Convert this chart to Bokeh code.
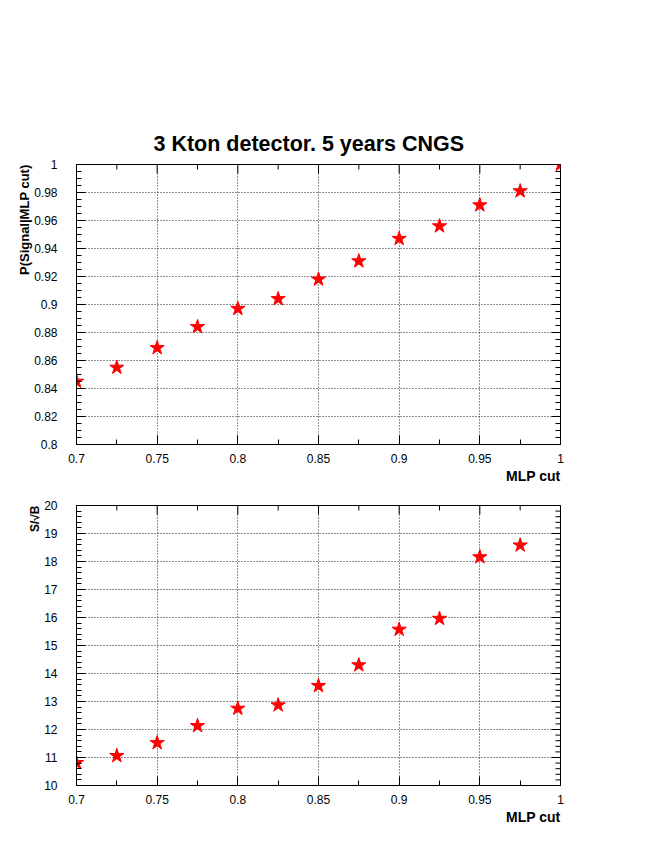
from math import pi

from bokeh.plotting import figure
from bokeh.layouts import column
from bokeh.models import Range1d, FixedTicker, Title
from bokeh.embed import file_html
from bokeh.resources import INLINE

# ---------------- data ----------------
mlp_cut = [0.700, 0.725, 0.750, 0.775, 0.800, 0.825, 0.850,
           0.875, 0.900, 0.925, 0.950, 0.975, 1.000]
p_signal = [0.845, 0.855, 0.869, 0.884, 0.897, 0.904, 0.918,
            0.931, 0.947, 0.956, 0.971, 0.981, 1.000]

mlp_cut_sb = [0.700, 0.725, 0.750, 0.775, 0.800, 0.825, 0.850,
              0.875, 0.900, 0.925, 0.950, 0.975]
s_over_sqrt_b = [10.81, 11.06, 11.52, 12.13, 12.75, 12.87, 13.56,
                 14.30, 15.57, 15.96, 18.16, 18.58]

# ---------------- ticks ----------------
x_major = [0.7, 0.75, 0.8, 0.85, 0.9, 0.95, 1.0]
x_major_labels = ["0.7", "0.75", "0.8", "0.85", "0.9", "0.95", "1"]
x_minor = [0.725, 0.775, 0.825, 0.875, 0.925, 0.975]

p_major = [0.8, 0.82, 0.84, 0.86, 0.88, 0.9, 0.92, 0.94, 0.96, 0.98, 1.0]
p_major_labels = ["0.8", "0.82", "0.84", "0.86", "0.88", "0.9",
                  "0.92", "0.94", "0.96", "0.98", "1"]
p_minor = [round(0.8 + 0.005 * i, 3) for i in range(41)]

sb_major = [10, 11, 12, 13, 14, 15, 16, 17, 18, 19, 20]
sb_major_labels = ["10", "11", "12", "13", "14", "15", "16", "17", "18", "19", "20"]
sb_minor = [round(10 + 0.2 * i, 1) for i in range(51)]

title_text = "3 Kton detector. 5 years CNGS"
x_title = "MLP cut"
p_title = "P(Signal|MLP cut)"
sb_title = "S/\u221aB"

FONT = "Liberation Sans"
MAJOR_LEN = 9
MINOR_LEN = 5


def style_axis(ax, ticks, minor, labels, standoff):
    ax.ticker = FixedTicker(ticks=ticks, minor_ticks=minor)
    ax.axis_line_color = "black"
    ax.axis_line_width = 1
    ax.major_tick_in = MAJOR_LEN
    ax.major_tick_out = 0
    ax.minor_tick_in = MINOR_LEN
    ax.minor_tick_out = 0
    ax.major_tick_line_color = "black"
    ax.minor_tick_line_color = "black"
    ax.major_label_text_font = FONT
    ax.major_label_text_color = "black"
    ax.major_label_text_font_size = "12px"
    ax.major_label_standoff = standoff
    ax.major_label_overrides = {float(t): s for t, s in zip(ticks, labels)}


def make_panel(xs, ys, y_lo, y_hi, y_major, y_labels, y_minor,
               ylabel, ylabel_size, border_top, border_bottom):
    p = figure(frame_width=484, frame_height=280,
               x_range=Range1d(0.7, 1.0), y_range=Range1d(y_lo, y_hi),
               output_backend="svg", toolbar_location=None,
               min_border_left=76, min_border_right=70,
               min_border_top=border_top, min_border_bottom=border_bottom,
               background_fill_color="white", border_fill_color="white")
    p.outline_line_color = "black"
    p.outline_line_width = 1

    style_axis(p.xaxis[0], x_major, x_minor, x_major_labels, 9)
    style_axis(p.yaxis[0], y_major, y_minor, y_labels, 19)

    for g in (p.xgrid[0], p.ygrid[0]):
        g.grid_line_color = "#222222"
        g.grid_line_dash = "1 2"
        g.grid_line_width = 1

    p.scatter(xs, ys, marker="star", size=15,
              fill_color="red", line_color="red")

    # ticks on the top and right edges (half of each dash is clipped by the frame)
    p.scatter(x_major, [y_hi] * len(x_major), marker="dash", angle=pi / 2,
              size=2 * MAJOR_LEN, line_color="black", line_width=1)
    p.scatter(x_minor, [y_hi] * len(x_minor), marker="dash", angle=pi / 2,
              size=2 * MINOR_LEN, line_color="black", line_width=1)
    p.scatter([1.0] * len(y_major), y_major, marker="dash",
              size=2 * MAJOR_LEN, line_color="black", line_width=1)
    p.scatter([1.0] * len(y_minor), y_minor, marker="dash",
              size=2 * MINOR_LEN, line_color="black", line_width=1)

    p.add_layout(Title(text=x_title, align="right", text_font=FONT,
                       text_font_style="bold", text_font_size="14px",
                       text_color="black", standoff=0), "below")
    p.add_layout(Title(text=ylabel, align="right", text_font=FONT,
                       text_font_style="bold", text_font_size=ylabel_size,
                       text_color="black", standoff=0), "left")
    return p


p1 = make_panel(mlp_cut, p_signal, 0.8, 1.0, p_major, p_major_labels, p_minor,
                p_title, "13px", 164, 50)
p1.add_layout(Title(text=title_text, align="left", offset=73, padding=4,
                    text_font=FONT, text_font_style="bold",
                    text_font_size="21.5px", text_color="black"), "above")

p2 = make_panel(mlp_cut_sb, s_over_sqrt_b, 10, 20, sb_major, sb_major_labels, sb_minor,
                sb_title, "12px", 11, 50)

layout = column(p1, p2, spacing=0)

open("out.html", "w").write(file_html(layout, INLINE))
